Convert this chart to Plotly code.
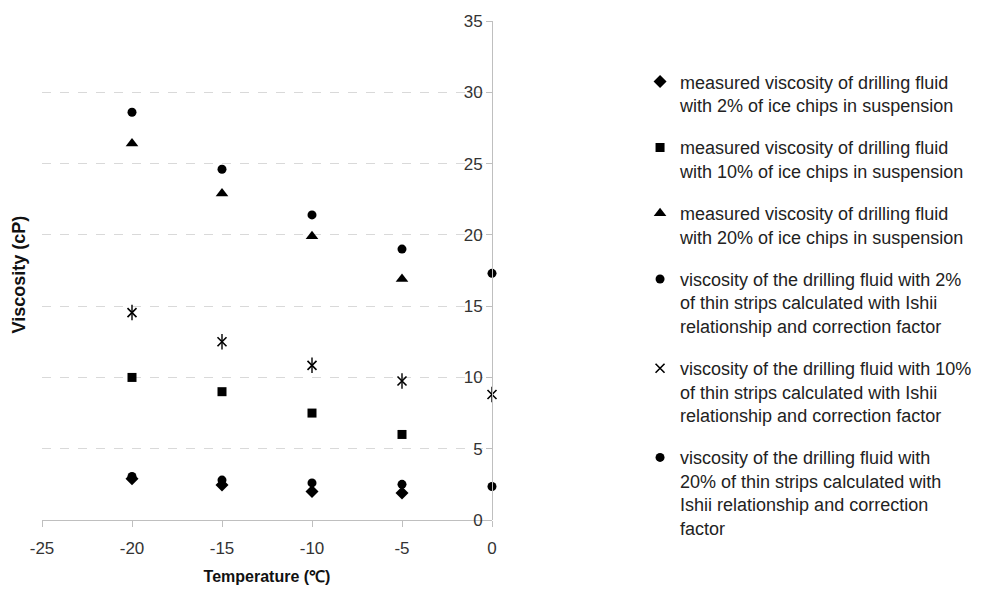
import plotly.graph_objects as go

temps_measured = [-20, -15, -10, -5]
temps_calc = [-20, -15, -10, -5, 0]

chips_2 = [2.9, 2.45, 2.0, 1.9]
chips_10 = [10.0, 9.0, 7.5, 6.0]
chips_20 = [26.4, 22.9, 19.9, 16.9]
strips_2 = [3.05, 2.8, 2.6, 2.5, 2.35]
strips_10 = [14.55, 12.5, 10.85, 9.75, 8.8]
strips_20 = [28.6, 24.6, 21.4, 19.0, 17.3]

names = [
    "measured viscosity of drilling fluid<br>with 2% of ice chips in suspension",
    "measured viscosity of drilling fluid<br>with 10% of ice chips in suspension",
    "measured viscosity of drilling fluid<br>with 20% of ice chips in suspension",
    "viscosity of the drilling fluid with 2%<br>of thin strips calculated with Ishii<br>relationship and correction factor",
    "viscosity of the drilling fluid with 10%<br>of thin strips calculated with Ishii<br>relationship and correction factor",
    "viscosity of the drilling fluid with<br>20% of thin strips calculated with<br>Ishii relationship and correction<br>factor",
]

x_ticks = [-25, -20, -15, -10, -5, 0]
x_labels = ["-25", "-20", "-15", "-10", "-5", "0"]
y_ticks = [0, 5, 10, 15, 20, 25, 30, 35]

fig = go.Figure()

def add(x, y, name, symbol, size, grp, lw=0):
    fig.add_trace(go.Scatter(
        x=x, y=y, mode="markers", name=name, legendgroup=grp,
        marker=dict(symbol=symbol, size=size, color="black",
                    line=dict(width=lw, color="black")),
        cliponaxis=False,
    ))

add(temps_measured, chips_2, names[0], "diamond", 10, "g1")
add(temps_measured, chips_10, names[1], "square", 9, "g2")
add(temps_measured, chips_20, names[2], "triangle-up", 11, "g3")
add(temps_calc, strips_2, names[3], "circle", 9, "g4")
add(temps_calc, strips_10, names[4], "x-thin-open", 9, "g5", 1.6)
fig.add_trace(go.Scatter(
    x=temps_calc, y=strips_10, mode="markers", showlegend=False, legendgroup="g5",
    marker=dict(symbol="line-ns-open", size=11, color="black",
                line=dict(width=1.4, color="black")),
    cliponaxis=False,
))
add(temps_calc, strips_20, names[5], "circle", 9, "g6")

fig.update_layout(
    width=989, height=589,
    margin=dict(l=34, r=505, t=13, b=77),
    paper_bgcolor="white", plot_bgcolor="white",
    font=dict(family="Liberation Sans, Arial, sans-serif", size=17, color="#333333"),
    showlegend=True,
    legend=dict(
        x=1.329, y=0.915, xanchor="left", yanchor="top",
        font=dict(size=18, color="#222222"),
        valign="top", tracegroupgap=16, itemwidth=30,
        bgcolor="rgba(0,0,0,0)", maxheight=560,
    ),
    xaxis=dict(
        range=[-25, 0], tickvals=x_ticks, ticktext=x_labels,
        showgrid=False, zeroline=False, automargin=False,
        showline=True, linecolor="#bfbfbf", linewidth=1,
        ticks="outside", ticklen=6, tickcolor="#bfbfbf",
        ticklabelstandoff=7, tickfont=dict(size=17),
        title=dict(text="<b>Temperature (℃)</b>", font=dict(size=16, color="#111111"), standoff=13),
    ),
    yaxis=dict(
        range=[0, 35], tickvals=y_ticks, side="left", anchor="free", position=1,
        automargin=False,
        ticks="outside", ticklen=6, tickcolor="#bfbfbf", tickfont=dict(size=17),
        showline=True, linecolor="#bfbfbf", linewidth=1,
        showgrid=True, gridcolor="#d9d9d9", griddash="dash", gridwidth=1,
        zeroline=False,
    ),
    annotations=[dict(
        text="<b>Viscosity (cP)</b>", textangle=-90, xref="paper", yref="paper",
        x=-0.051, y=0.492, xanchor="center", yanchor="middle", showarrow=False,
        font=dict(size=18, color="#111111"),
    )],
)

fig.write_html("out.html")
